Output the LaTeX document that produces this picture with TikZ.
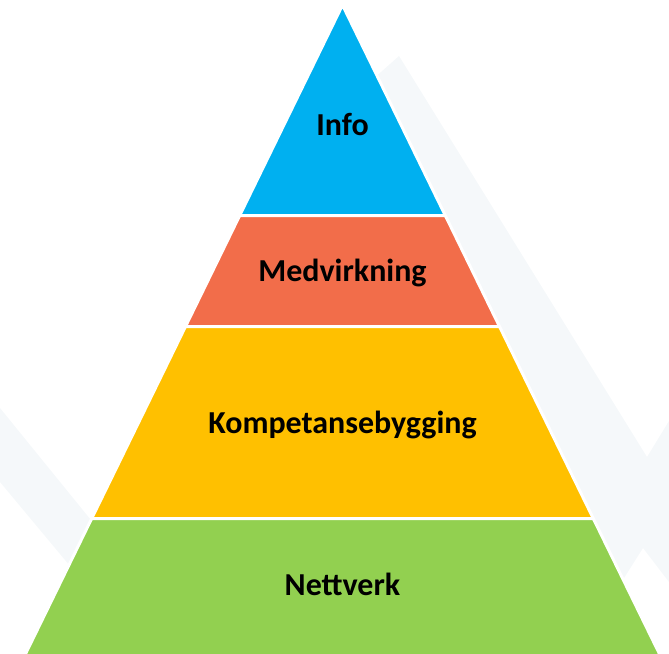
\documentclass[tikz,border=0pt]{standalone}
\usepackage{fontspec}
\setmainfont{Carlito}
\usepackage{tikz}

\definecolor{infoblue}{HTML}{00B0F0}
\definecolor{medorange}{HTML}{F26D4A}
\definecolor{kompyellow}{HTML}{FFC000}
\definecolor{nettgreen}{HTML}{92D050}
\definecolor{markgray}{HTML}{F5F8FA}

\begin{document}
\begin{tikzpicture}[x=0.02cm,y=-0.02cm,
		layer/.style={draw=white,line width=1.7pt,line join=round},
		lbl/.style={anchor=base,font=\fontsize{18.2}{22}\selectfont\bfseries,text=black}]
				\useasboundingbox (0,0) rectangle (669,653);
				\fill[markgray] (399,56) -- (647,457) -- (669,421) -- (669,582) -- (643,548) -- (612,597) -- (470,290) -- (372,80) -- cycle;
				\fill[markgray] (0,408) -- (95,525) -- (75,572) -- (0,482) -- cycle;
				\filldraw[layer,fill=infoblue] (342.5,5) -- (445.3,215.5) -- (239.7,215.5) -- cycle;
				\filldraw[layer,fill=medorange] (239.7,215.5) -- (445.3,215.5) -- (499.5,326.5) -- (185.5,326.5) -- cycle;
				\filldraw[layer,fill=kompyellow] (185.5,326.5) -- (499.5,326.5) -- (593.3,518.5) -- (91.7,518.5) -- cycle;
				\filldraw[layer,fill=nettgreen] (91.7,518.5) -- (593.3,518.5) -- (660.5,656) -- (24.5,656) -- cycle;
				\node[lbl] (info) at (342.5,135) {Info};
				\node[lbl] (medvirkning) at (342.5,281) {Medvirkning};
				\node[lbl] (kompetanse) at (342.5,433) {Kompetansebygging};
				\node[lbl] (nettverk) at (342.5,595) {Nettverk};
			\end{tikzpicture}
\end{document}
